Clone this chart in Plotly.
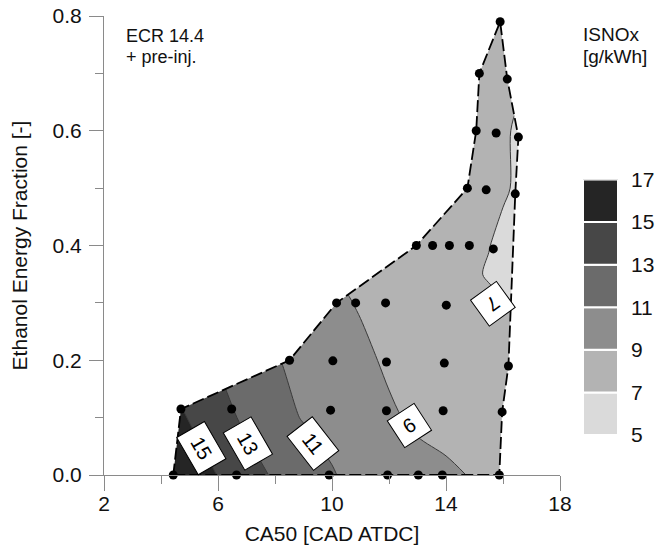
import plotly.graph_objects as go

# ---------------- data ----------------
# measurement points (CA50 [CAD ATDC], ethanol energy fraction [-])
pt_x = [4.43, 6.65, 9.90, 11.95, 13.03, 13.87, 15.87,
        4.70, 6.48, 9.95, 11.91, 13.90, 15.97,
        8.51, 10.03, 11.91, 13.94, 16.19,
        10.16, 10.83, 11.88, 14.01, 15.97,
        12.96, 13.53, 14.12, 14.82, 15.66,
        14.75, 15.41, 16.43,
        15.06, 15.76, 16.54,
        15.17, 16.15,
        15.90]
pt_y = [0.0, 0.0, 0.0, 0.0, 0.0, 0.0, 0.0,
        0.115, 0.115, 0.113, 0.112, 0.112, 0.110,
        0.200, 0.199, 0.197, 0.195, 0.190,
        0.300, 0.300, 0.300, 0.296, 0.290,
        0.400, 0.400, 0.400, 0.400, 0.394,
        0.500, 0.497, 0.490,
        0.600, 0.596, 0.589,
        0.700, 0.690,
        0.790]
# indices of the measurement points forming the outline of the measured region
hull_idx = [0, 6, 12, 17, 30, 33, 35, 36, 34, 31, 28, 23, 18, 13, 7]

# ISNOx field [g/kWh]
grid_x = [4, 5, 6, 7, 8, 9, 10, 11, 12, 13, 14, 15, 15.5, 16, 16.5, 17]
grid_y = [0.0, 0.1, 0.2, 0.3, 0.35, 0.4, 0.5, 0.6, 0.7, 0.8]
isnox = [
    [16.6, 16.0, 14.95, 13.85, 12.75, 11.95, 11.15, 10.25, 9.9, 9.6, 9.35, 8.85, 8.6, 8.4, 8.2, 8.0],
    [16.0, 14.9, 13.8, 12.6, 11.6, 10.9, 10.3, 9.8, 9.25, 8.7, 8.3, 8.0, 7.9, 7.8, 7.7, 7.6],
    [14.9, 13.85, 12.85, 12.0, 11.15, 10.4, 9.9, 9.4, 8.73, 8.3, 8.0, 7.7, 7.6, 7.5, 7.4, 7.3],
    [12.9, 12.2, 11.5, 10.9, 10.3, 9.75, 9.4, 8.85, 8.4, 8.1, 7.8, 7.5, 7.35, 7.1, 6.8, 6.6],
    [12.5, 11.9, 11.3, 10.7, 10.1, 9.6, 9.1, 8.6, 8.3, 8.0, 7.7, 7.2, 6.85, 6.6, 6.4, 6.3],
    [12.2, 11.6, 11.0, 10.4, 9.9, 9.4, 9.0, 8.7, 8.4, 8.1, 7.8, 7.35, 7.05, 6.6, 6.4, 6.3],
    [11.5, 11.0, 10.5, 10.0, 9.6, 9.2, 8.9, 8.7, 8.5, 8.3, 8.1, 7.8, 7.5, 7.2, 6.8, 6.5],
    [11.0, 10.6, 10.2, 9.8, 9.4, 9.1, 8.8, 8.6, 8.4, 8.25, 8.1, 7.9, 7.6, 7.3, 6.75, 6.5],
    [10.6, 10.2, 9.8, 9.5, 9.2, 8.9, 8.7, 8.5, 8.35, 8.2, 8.1, 8.0, 7.8, 7.6, 7.4, 7.2],
    [10.2, 9.9, 9.6, 9.3, 9.0, 8.8, 8.6, 8.45, 8.3, 8.2, 8.15, 8.1, 8.0, 7.9, 7.8, 7.7],
]

levels = [5, 7, 9, 11, 13, 15, 17]
band_colors = ['#dadada', '#b3b3b3', '#8d8d8d', '#6b6b6b', '#474747', '#252525']

# contour labels: text, x, y, angle
lab_text = ['15', '13', '11', '9', '7']
lab_x = [5.42, 7.05, 9.33, 12.70, 15.66]
lab_y = [0.046, 0.055, 0.055, 0.086, 0.298]
lab_ang = [60, 60, 52, 147, 144]

x_range = [2, 18]
y_range = [0, 0.8]

FONT = 'Liberation Sans, Arial, sans-serif'

# ---------------- figure ----------------
cscale = []
n = len(band_colors)
for i, c in enumerate(band_colors):
    cscale.append([i / n, c])
    cscale.append([(i + 1) / n, c])

fig = go.Figure()

fig.add_trace(go.Contour(
    x=grid_x, y=grid_y, z=isnox,
    zmin=levels[0], zmax=levels[-1],
    autocontour=False,
    contours=dict(start=levels[0], end=levels[-1], size=levels[1] - levels[0],
                  coloring='fill', showlines=True),
    colorscale=cscale, showscale=False,
    line=dict(color='#3a3a3a', width=1, smoothing=0.9),
    hoverinfo='skip',
))

# white mask outside the measured region (keyhole polygon)
hx = [pt_x[i] for i in hull_idx]
hy = [pt_y[i] for i in hull_idx]
ox0, ox1 = x_range[0] - 1, x_range[1] + 1
oy0, oy1 = y_range[0] - 0.1, y_range[1] + 0.1
mask_x = [ox0, ox1, ox1, ox0, ox0, hx[0]] + hx[::-1] + [hx[0], ox0]
mask_y = [oy0, oy0, oy1, oy1, oy0, hy[0]] + hy[::-1] + [hy[0], oy0]
fig.add_trace(go.Scatter(x=mask_x, y=mask_y, mode='lines', fill='toself',
                         fillcolor='white', line=dict(width=0, color='white'),
                         hoverinfo='skip', showlegend=False))

# dashed outline
fig.add_trace(go.Scatter(x=hx + [hx[0]], y=hy + [hy[0]], mode='lines',
                         line=dict(color='black', width=1.8, dash='12px,4px'),
                         cliponaxis=False, hoverinfo='skip', showlegend=False))

# measurement points
fig.add_trace(go.Scatter(x=pt_x, y=pt_y, mode='markers',
                         marker=dict(size=9, color='black'),
                         cliponaxis=False, hoverinfo='skip', showlegend=False))

# legend boxes (colour key)
fig.add_trace(go.Bar(x=[0] * n, y=[levels[i + 1] - levels[i] for i in range(n)],
                     base=levels[:-1], width=1,
                     marker=dict(color=band_colors, line=dict(color='white', width=2)),
                     xaxis='x2', yaxis='y2', hoverinfo='skip', showlegend=False))

annotations = []
for t, x, y, a in zip(lab_text, lab_x, lab_y, lab_ang):
    annotations.append(dict(x=x, y=y, xref='x', yref='y', text=t, showarrow=False,
                            textangle=a, bgcolor='white', bordercolor='black',
                            borderwidth=1, width=40 if len(t) > 1 else 29, height=29,
                            font=dict(family=FONT, size=20, color='black')))

W, H = 659, 551
ML, MR, MT, MB = 104, 20, 16, 76
PW, PH = W - ML - MR, H - MT - MB


def px_x(px):
    return (px - ML) / PW


def px_y(py):
    return (H - MB - py) / PH


def two_lines(a, b, size):
    s = '<span style="font-size:%dpx">' % size
    return s + a + '</span><br>' + s + b + '</span>'


annotations += [
    dict(x=px_x(124), y=px_y(24), xref='paper', yref='paper',
         text=two_lines('ECR 14.4', '+ pre-inj.', 18),
         showarrow=False, xanchor='left', yanchor='top', align='left',
         font=dict(family=FONT, size=16, color='#111')),
    dict(x=px_x(581), y=px_y(22), xref='paper', yref='paper',
         text=two_lines('ISNOx', '[g/kWh]', 19),
         showarrow=False, xanchor='left', yanchor='top', align='left',
         font=dict(family=FONT, size=17, color='#111')),
]

axis_col = '#8a8a8a'
fig.update_layout(
    width=W, height=H,
    margin=dict(l=ML, r=MR, t=MT, b=MB),
    paper_bgcolor='white', plot_bgcolor='white',
    font=dict(family=FONT, size=21, color='#111'),
    showlegend=False,
    annotations=annotations,
    xaxis=dict(range=x_range, domain=[0, px_x(560)], tick0=2, dtick=4,
               ticks='outside', ticklen=15, tickwidth=1, tickcolor=axis_col,
               showline=True, linecolor=axis_col, linewidth=1,
               showgrid=False, zeroline=False, automargin=False,
               minor=dict(dtick=2, ticks='outside', ticklen=8, tickcolor=axis_col, showgrid=False),
               tickfont=dict(size=21), ticklabelstandoff=-5,
               title=dict(text='CA50 [CAD ATDC]', font=dict(size=21), standoff=12)),
    yaxis=dict(range=y_range, domain=[0, 1], tick0=0, dtick=0.2, tickformat='.1f',
               ticks='outside', ticklen=14, tickwidth=1, tickcolor=axis_col,
               showline=True, linecolor=axis_col, linewidth=1,
               showgrid=False, zeroline=False, automargin=False,
               minor=dict(dtick=0.1, ticks='outside', ticklen=8, tickcolor=axis_col, showgrid=False),
               tickfont=dict(size=21), ticklabelstandoff=3,
               title=dict(text='Ethanol Energy Fraction [-]', font=dict(size=21), standoff=19)),
    xaxis2=dict(domain=[px_x(583), px_x(618)], range=[-0.5, 0.5], anchor='y2',
                visible=False, fixedrange=True, automargin=False),
    yaxis2=dict(domain=[px_y(435), px_y(179.5)], range=[levels[0], levels[-1]],
                anchor='x2', side='right', tickvals=levels, ticks='',
                showline=False, showgrid=False, zeroline=False, automargin=False,
                ticklabelstandoff=12, tickfont=dict(size=21), fixedrange=True),
)

fig.write_html('out.html')
